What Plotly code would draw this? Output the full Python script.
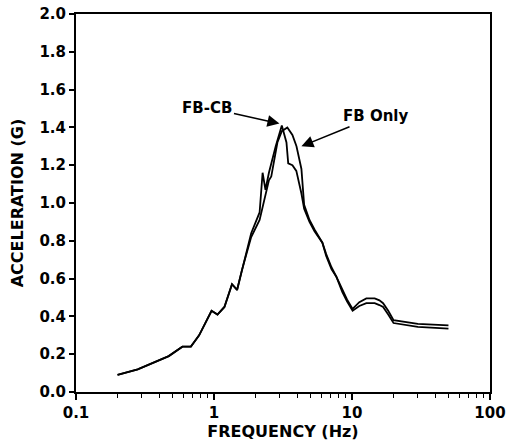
import numpy as np
import plotly.graph_objects as go

# FB-CB curve
freq_cb = [0.2, 0.28, 0.47, 0.59, 0.68, 0.78, 0.96, 1.06, 1.19, 1.35, 1.47, 1.6, 1.86,
           2.14, 2.25, 2.36, 2.5, 2.8, 3.1, 3.35, 3.45, 3.7, 3.95, 4.3, 4.5, 4.92, 5.35,
           6.1, 6.5, 7.1, 7.7, 8.5, 9.2, 10.1, 11.3, 12.7, 14.6, 15.8, 16.8, 18.3, 20.0,
           30.0, 50.0]
acc_cb = [0.09, 0.12, 0.19, 0.24, 0.24, 0.30, 0.43, 0.41, 0.45, 0.57, 0.54, 0.65, 0.84,
          0.95, 1.16, 1.07, 1.16, 1.30, 1.41, 1.32, 1.21, 1.20, 1.17, 1.05, 0.97, 0.90, 0.85,
          0.79, 0.72, 0.65, 0.61, 0.53, 0.48, 0.43, 0.455, 0.47, 0.47, 0.46, 0.45, 0.41, 0.365,
          0.345, 0.335]

# FB Only curve
freq_fb = [0.2, 0.28, 0.47, 0.59, 0.68, 0.78, 0.96, 1.06, 1.19, 1.35, 1.47, 1.6, 1.86,
           2.14, 2.5, 2.6, 2.88, 3.1, 3.4, 3.7, 3.96, 4.3, 4.5, 4.92, 5.35,
           6.1, 6.5, 7.1, 7.7, 8.5, 9.2, 10.1, 11.3, 12.7, 14.6, 15.8, 16.8, 18.3, 20.0,
           30.0, 50.0]
acc_fb = [0.09, 0.12, 0.19, 0.24, 0.24, 0.30, 0.43, 0.41, 0.45, 0.57, 0.54, 0.65, 0.82,
          0.91, 1.12, 1.14, 1.32, 1.38, 1.40, 1.36, 1.30, 1.18, 0.99, 0.91, 0.86,
          0.79, 0.73, 0.66, 0.61, 0.54, 0.49, 0.44, 0.475, 0.495, 0.495, 0.485, 0.47, 0.43, 0.38,
          0.36, 0.352]

y_ticks = [0.0, 0.2, 0.4, 0.6, 0.8, 1.0, 1.2, 1.4, 1.6, 1.8, 2.0]
x_ticks = [0.1, 1, 10, 100]
x_tick_text = ["0.1", "1", "10", "100"]
x_minor = [m * d for d in (0.1, 1, 10) for m in range(2, 10)]

font_family = "DejaVu Sans, sans-serif"

fig = go.Figure()
fig.add_trace(go.Scatter(x=freq_cb, y=acc_cb, mode="lines", name="FB-CB",
                         line=dict(color="black", width=1.8)))
fig.add_trace(go.Scatter(x=freq_fb, y=acc_fb, mode="lines", name="FB Only",
                         line=dict(color="black", width=1.8)))

fig.add_annotation(x=np.log10(2.98), y=1.42, text="FB-CB", showarrow=True,
                   ax=-72, ay=-16, arrowhead=2, arrowsize=1.5, arrowwidth=1.6,
                   arrowcolor="black",
                   font=dict(size=15, color="black", family=font_family, weight="bold"))
fig.add_annotation(x=np.log10(4.3), y=1.30, text="FB Only", showarrow=True,
                   ax=74, ay=-30, arrowhead=2, arrowsize=1.5, arrowwidth=1.6,
                   arrowcolor="black",
                   font=dict(size=15, color="black", family=font_family, weight="bold"))

fig.update_layout(
    width=509, height=447,
    margin=dict(l=76, r=19, t=14, b=55),
    paper_bgcolor="white", plot_bgcolor="white",
    showlegend=False,
    font=dict(family=font_family, size=14, color="black", weight="bold"),
)
fig.update_xaxes(
    type="log", range=[-1, 2], automargin=False,
    tickvals=x_ticks, ticktext=x_tick_text,
    ticks="outside", ticklen=6, tickwidth=1.5, tickcolor="black",
    minor=dict(tickvals=x_minor, ticks="outside", ticklen=4, tickwidth=1.3, tickcolor="black"),
    showline=True, linecolor="black", linewidth=2, mirror=True,
    showgrid=False, zeroline=False,
    title=dict(text="FREQUENCY (Hz)", font=dict(size=16, weight="bold"), standoff=3),
    tickfont=dict(size=15, weight="bold"),
)
fig.update_yaxes(
    range=[0, 2.0], automargin=False,
    tickvals=y_ticks, tickformat=".1f",
    ticks="outside", ticklen=5, tickwidth=1.5, tickcolor="black",
    showline=True, linecolor="black", linewidth=2, mirror=True,
    showgrid=False, zeroline=False,
    title=dict(text="ACCELERATION (G)", font=dict(size=16, weight="bold"), standoff=12),
    tickfont=dict(size=15, weight="bold"),
)

fig.write_html(
    "out.html",
    config={"displayModeBar": False},
    post_script="document.body.style.margin='0';document.body.style.overflow='hidden';",
)
